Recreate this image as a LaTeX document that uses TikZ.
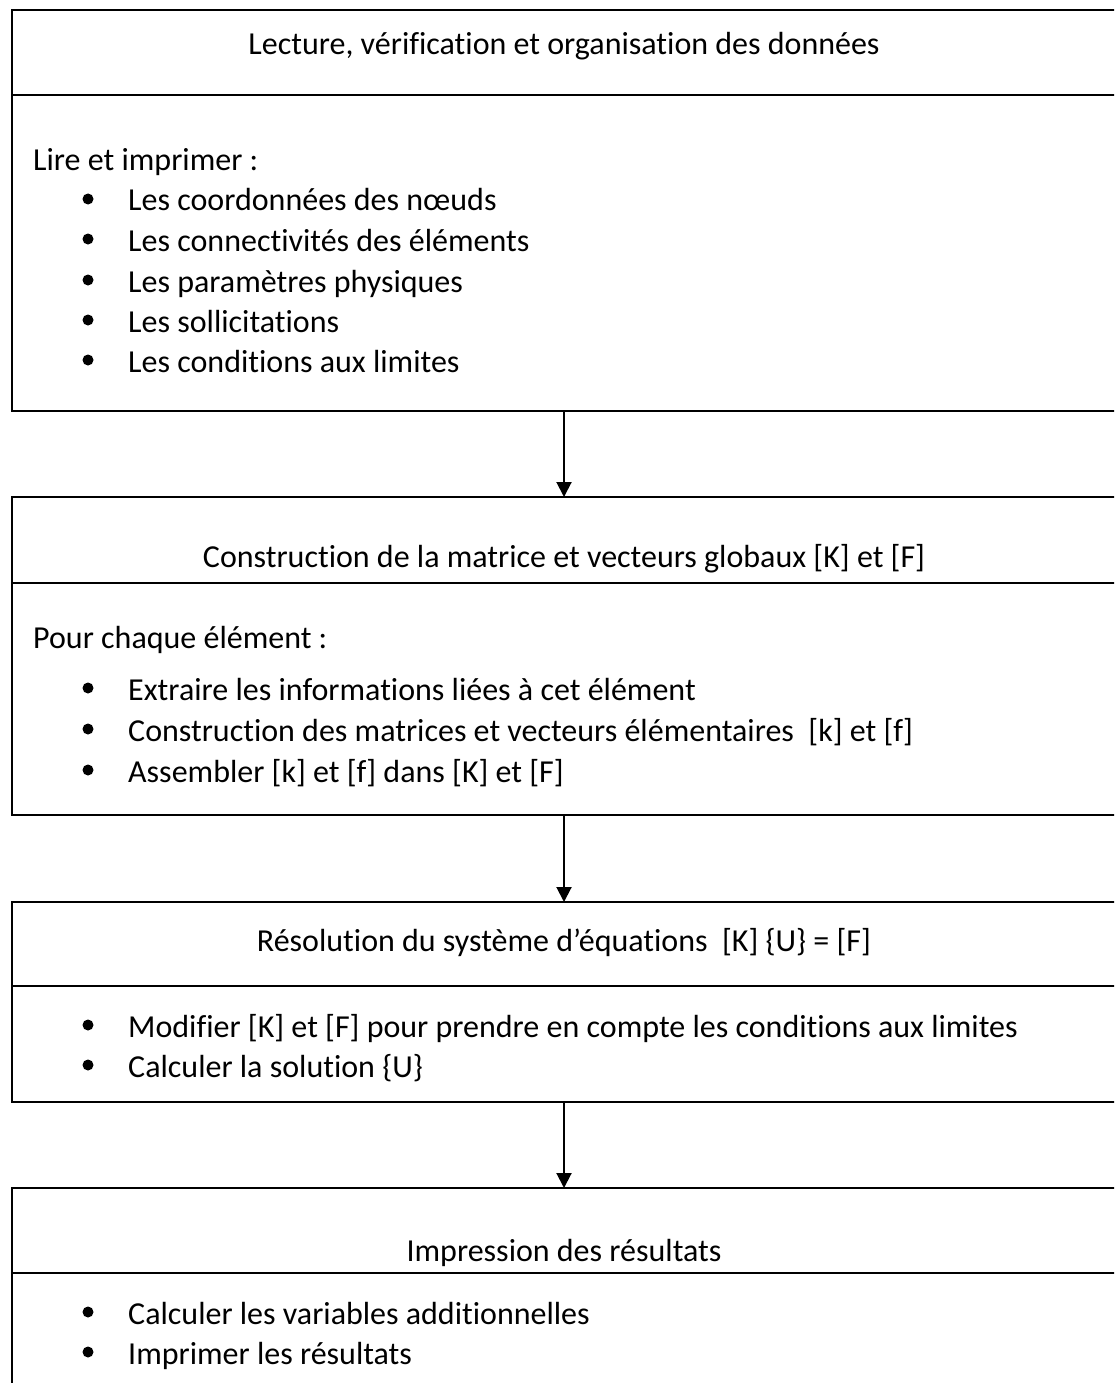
\documentclass[tikz,border=0pt]{standalone}
\usepackage{fontspec}
\setmainfont{Carlito}[Ligatures=NoCommon]
\usetikzlibrary{arrows.meta}
\newcommand\listitem[3]{%
  \fill (88,#2-12) circle (5.5);
  \node[label] (#1) at (128,#2) {#3};}
\begin{document}
\begin{tikzpicture}[x=1pt,y=-1pt,
  stage/.style={draw=black,line width=2pt,minimum width=1104pt,anchor=north west,
    inner sep=0pt,outer sep=0pt},
  divider/.style={line width=2pt},
  label/.style={font=\fontsize{32}{40}\selectfont,inner sep=0pt,anchor=base west},
  title/.style={label,anchor=base},
  flow/.style={line width=2pt,-{Triangle[width=15pt,length=15pt]}}]
\useasboundingbox (0,0) rectangle (1114,1383);
\clip (0,0) rectangle (1114,1383);

% stage frames
\node[stage,minimum height=401pt] (s1) at (12,10) {};
\node[stage,minimum height=318pt] (s2) at (12,497) {};
\node[stage,minimum height=200pt] (s3) at (12,902) {};
\node[stage,minimum height=260pt] (s4) at (12,1188) {};

% header dividers
\draw[divider] (s1.west |- 0,95) -- (s1.east |- 0,95);
\draw[divider] (s2.west |- 0,583) -- (s2.east |- 0,583);
\draw[divider] (s3.west |- 0,986) -- (s3.east |- 0,986);
\draw[divider] (s4.west |- 0,1273) -- (s4.east |- 0,1273);

% flow between stages
\draw[flow] (s1.south) -- (s2.north);
\draw[flow] (s2.south) -- (s3.north);
\draw[flow] (s3.south) -- (s4.north);

% stage 1
\node[title] (t1) at (564,55) {Lecture, vérification et organisation des données};
\node[label] (h1) at (33,171) {Lire et imprimer :};
\listitem{a1}{211}{Les coordonnées des nœuds}
\listitem{a2}{251}{Les connectivités des éléments}
\listitem{a3}{292}{Les paramètres physiques}
\listitem{a4}{332}{Les sollicitations}
\listitem{a5}{372}{Les conditions aux limites}

% stage 2
\node[title] (t2) at (564,567) {Construction de la matrice et vecteurs globaux [K] et [F]};
\node[label] (h2) at (33,648) {Pour chaque élément :};
\listitem{b1}{700}{Extraire les informations liées à cet élément}
\listitem{b2}{741}{Construction des matrices et vecteurs élémentaires ~[k] et [f]}
\listitem{b3}{782}{Assembler [k] et [f] dans [K] et [F]}

% stage 3
\node[title] (t3) at (564,951) {Résolution du système d’équations ~[K] \{U\} = [F]};
\listitem{c1}{1037}{Modifier [K] et [F] pour prendre en compte les conditions aux limites}
\listitem{c2}{1077}{Calculer la solution \{U\}}

% stage 4
\node[title] (t4) at (564,1261) {Impression des résultats};
\listitem{d1}{1324}{Calculer les variables additionnelles}
\listitem{d2}{1364}{Imprimer les résultats}
\end{tikzpicture}
\end{document}
